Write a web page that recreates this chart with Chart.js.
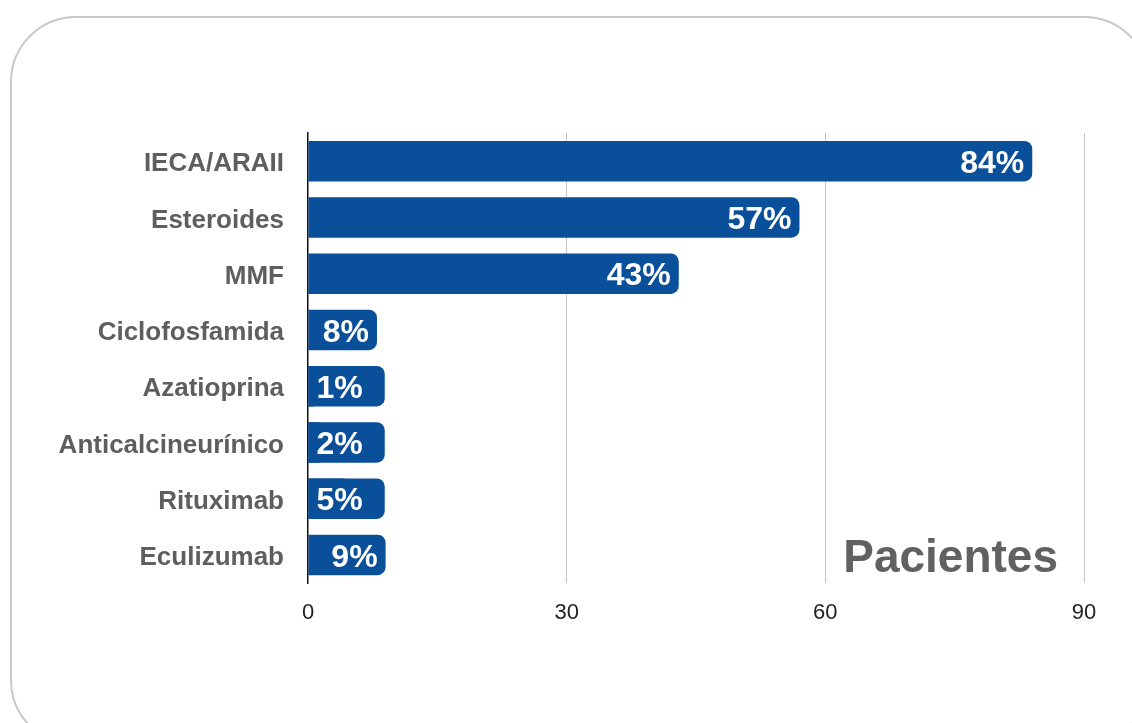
<!DOCTYPE html>
<html lang="es">
<head>
<meta charset="utf-8">
<title>Pacientes por tratamiento</title>
<script src="https://cdn.jsdelivr.net/npm/chart.js@4.4.1/dist/chart.umd.min.js"></script>
<style>
  html, body { margin: 0; padding: 0; background: #fff; overflow: hidden; }
  body { width: 1132px; height: 723px; position: relative; }
  /* marco redondeado alrededor del gráfico */
  .frame {
    position: absolute; left: 10px; top: 16px;
    width: 1140px; height: 730px;
    border: 2px solid #c9c9c9; border-radius: 66px;
    box-sizing: border-box;
  }
  .chart-box { position: absolute; left: 0; top: 0; width: 1132px; height: 723px; }
</style>
</head>
<body>
<div class="frame"></div>
<div class="chart-box"><canvas id="treatmentsChart"></canvas></div>
<script>
// Tratamientos y porcentaje de pacientes
const treatments = ['IECA/ARAII', 'Esteroides', 'MMF', 'Ciclofosfamida', 'Azatioprina',
    'Anticalcineurínico', 'Rituximab', 'Eculizumab'];
const percentages = [84, 57, 43, 8, 1, 2, 5, 9];
const axisTicks = [0, 30, 60, 90];

const FONT = '"Liberation Sans", Arial, Helvetica, sans-serif';
const BAR_BLUE = '#0a4f99';

// Dibuja la etiqueta "NN%" en cada barra; si la barra es corta, le pone un fondo azul
const barLabels = {
    id: 'barLabels',
    afterDatasetsDraw(chart) {
        const ctx = chart.ctx;
        const meta = chart.getDatasetMeta(0);
        ctx.save();
        ctx.font = 'bold 32px ' + FONT;
        ctx.textBaseline = 'middle';
        meta.data.forEach((bar, i) => {
            const text = percentages[i] + '%';
            const w = ctx.measureText(text).width;
            const { x, y, base, height } = bar.getProps(['x', 'y', 'base', 'height'], true);
            const cy = y + 3;
            if (x - base > w + 20) {
                ctx.fillStyle = '#fff';
                ctx.textAlign = 'right';
                ctx.fillText(text, x - 8, cy);
            } else {
                const right = Math.max(x, base + w + 30);
                ctx.fillStyle = BAR_BLUE;
                ctx.beginPath();
                ctx.roundRect(base, y - height / 2, right - base, height, [0, 8, 8, 0]);
                ctx.fill();
                ctx.fillStyle = '#fff';
                ctx.textAlign = 'left';
                ctx.fillText(text, base + 8, cy);
            }
        });
        ctx.restore();
    }
};

// Título "Pacientes" dentro del área del gráfico, abajo a la derecha
const unitTitle = {
    id: 'unitTitle',
    afterDraw(chart) {
        const { ctx, chartArea } = chart;
        ctx.save();
        ctx.font = 'bold 46px ' + FONT;
        ctx.fillStyle = '#616161';
        ctx.textAlign = 'right';
        ctx.textBaseline = 'alphabetic';
        ctx.fillText('Pacientes', chartArea.right - 26, chartArea.bottom - 11);
        ctx.restore();
    }
};

new Chart(document.getElementById('treatmentsChart'), {
    type: 'bar',
    data: {
        labels: treatments,
        datasets: [{
            data: percentages,
            backgroundColor: BAR_BLUE,
            borderWidth: 0,
            borderRadius: 8,
            borderSkipped: 'start',
            barPercentage: 0.72,
            categoryPercentage: 1
        }]
    },
    options: {
        indexAxis: 'y',
        responsive: true,
        maintainAspectRatio: false,
        animation: false,
        layout: { padding: { left: 0, right: 48, top: 133, bottom: 0 } },
        plugins: {
            legend: { display: false },
            tooltip: { enabled: false }
        },
        scales: {
            x: {
                min: 0,
                max: 90,
                afterBuildTicks(scale) {
                    scale.ticks = axisTicks.map(v => ({ value: v }));
                },
                afterFit(scale) { scale.height = 140; },
                border: { display: false },
                grid: {
                    drawTicks: false,
                    color: c => (c.tick && c.tick.value === 0) ? 'rgba(0,0,0,0)' : '#c6c6c6',
                    lineWidth: 1
                },
                ticks: {
                    padding: 17,
                    color: '#222',
                    font: { family: FONT, size: 22 }
                }
            },
            y: {
                afterFit(scale) { scale.width = 308; },
                border: { display: true, color: '#111', width: 1.5 },
                grid: { display: false, drawTicks: false },
                ticks: {
                    padding: 24,
                    labelOffset: 3,
                    color: '#5e5e5e',
                    font: { family: FONT, size: 26, weight: 'bold' }
                }
            }
        }
    },
    plugins: [barLabels, unitTitle]
});
</script>
</body>
</html>
